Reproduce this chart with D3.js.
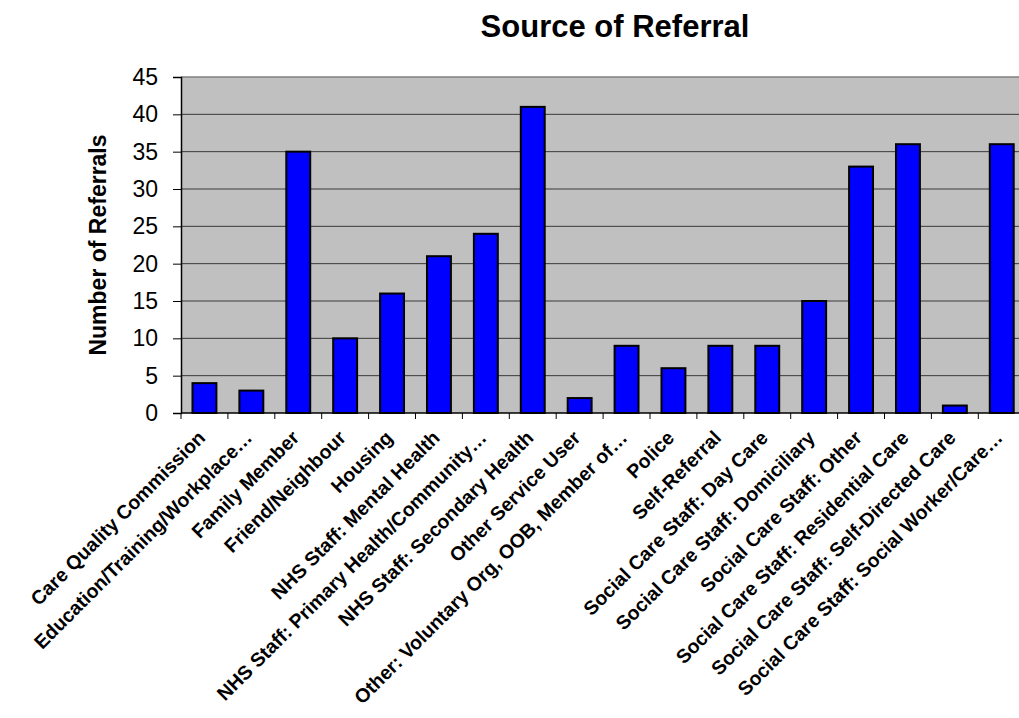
<!DOCTYPE html>
<html>
<head>
<meta charset="utf-8">
<script src="https://cdn.jsdelivr.net/npm/d3@7"></script>
<style>
  html, body { margin: 0; padding: 0; background: #fff; }
  svg { display: block; }
  text { font-family: "Liberation Sans", Arial, sans-serif; }
</style>
</head>
<body>
<svg id="chart" width="1019" height="718"></svg>
<script>
const categories = [
  "Care Quality Commission",
  "Education/Training/Workplace…",
  "Family Member",
  "Friend/Neighbour",
  "Housing",
  "NHS Staff: Mental Health",
  "NHS Staff: Primary Health/Community…",
  "NHS Staff: Secondary Health",
  "Other Service User",
  "Other: Voluntary Org, OOB, Member of…",
  "Police",
  "Self-Referral",
  "Social Care Staff: Day Care",
  "Social Care Staff: Domiciliary",
  "Social Care Staff: Other",
  "Social Care Staff: Residential Care",
  "Social Care Staff: Self-Directed Care",
  "Social Care Staff: Social Worker/Care…"
];
const referrals = [4, 3, 35, 10, 16, 21, 24, 41, 2, 9, 6, 9, 9, 15, 33, 36, 1, 36];
const yTicks = [0, 5, 10, 15, 20, 25, 30, 35, 40, 45];
const chartTitle = "Source of Referral";
const yTitle = "Number of Referrals";

const svg = d3.select("#chart");
const plotLeft = 181, plotTop = 77, plotBottom = 413;
const band = 46.9;
const plotRight = plotLeft + band * categories.length;

const x = d3.scaleBand().domain(categories).range([plotLeft, plotRight]).paddingInner(0.49).paddingOuter(0.245);
const y = d3.scaleLinear().domain([0, 45]).range([plotBottom, plotTop]);

// plot background
svg.append("rect").attr("x", plotLeft).attr("y", plotTop).attr("width", plotRight - plotLeft).attr("height", plotBottom - plotTop)
  .attr("fill", "#c0c0c0");

// gridlines
svg.append("g").selectAll("line").data(yTicks.filter(d => d > 0 && d < 45)).join("line")
  .attr("x1", plotLeft).attr("x2", plotRight).attr("y1", d => y(d)).attr("y2", d => y(d))
  .attr("stroke", "#3a3a3a").attr("stroke-width", 1);
// top border
svg.append("line").attr("x1", plotLeft).attr("x2", plotRight).attr("y1", y(45)).attr("y2", y(45))
  .attr("stroke", "#808080").attr("stroke-width", 1.5);

// bars
svg.append("g").selectAll("rect").data(referrals).join("rect")
  .attr("x", (d, i) => x(categories[i]))
  .attr("y", d => y(d))
  .attr("width", x.bandwidth())
  .attr("height", d => y(0) - y(d))
  .attr("fill", "#0000ff")
  .attr("stroke", "#000").attr("stroke-width", 2);

// y axis
const yAxis = d3.axisLeft(y).tickValues(yTicks).tickSize(8).tickPadding(15);
const gy = svg.append("g").attr("transform", `translate(${plotLeft},0)`).call(yAxis);
gy.select(".domain").attr("stroke", "#000").attr("stroke-width", 1.5);
gy.selectAll(".tick line").attr("stroke", "#000");
gy.selectAll(".tick text").attr("font-size", 23).attr("fill", "#000")
  .style("font-family", '"Liberation Sans", Arial, sans-serif');

// x axis line and ticks at band boundaries
svg.append("line").attr("x1", plotLeft).attr("x2", plotRight).attr("y1", plotBottom).attr("y2", plotBottom)
  .attr("stroke", "#000").attr("stroke-width", 1.5);
svg.append("g").selectAll("line").data(d3.range(categories.length + 1)).join("line")
  .attr("x1", i => plotLeft + i * x.step())
  .attr("x2", i => plotLeft + i * x.step())
  .attr("y1", plotBottom).attr("y2", plotBottom + 6)
  .attr("stroke", "#000").attr("stroke-width", 1);

// category labels
svg.append("g").selectAll("text").data(categories).join("text")
  .attr("transform", d => `translate(${x(d) + x.bandwidth() / 2 + 2},${plotBottom + 26}) rotate(-45)`)
  .attr("text-anchor", "end")
  .attr("font-size", 19.5).attr("font-weight", "bold").attr("fill", "#000")
  .text(d => d);

// title
svg.append("text").attr("x", 615).attr("y", 37).attr("text-anchor", "middle")
  .attr("font-size", 31).attr("font-weight", "bold").text(chartTitle);

// y title
svg.append("text").attr("transform", `translate(106,245) rotate(-90)`).attr("text-anchor", "middle")
  .attr("font-size", 23).attr("font-weight", "bold").text(yTitle);
</script>
</body>
</html>
